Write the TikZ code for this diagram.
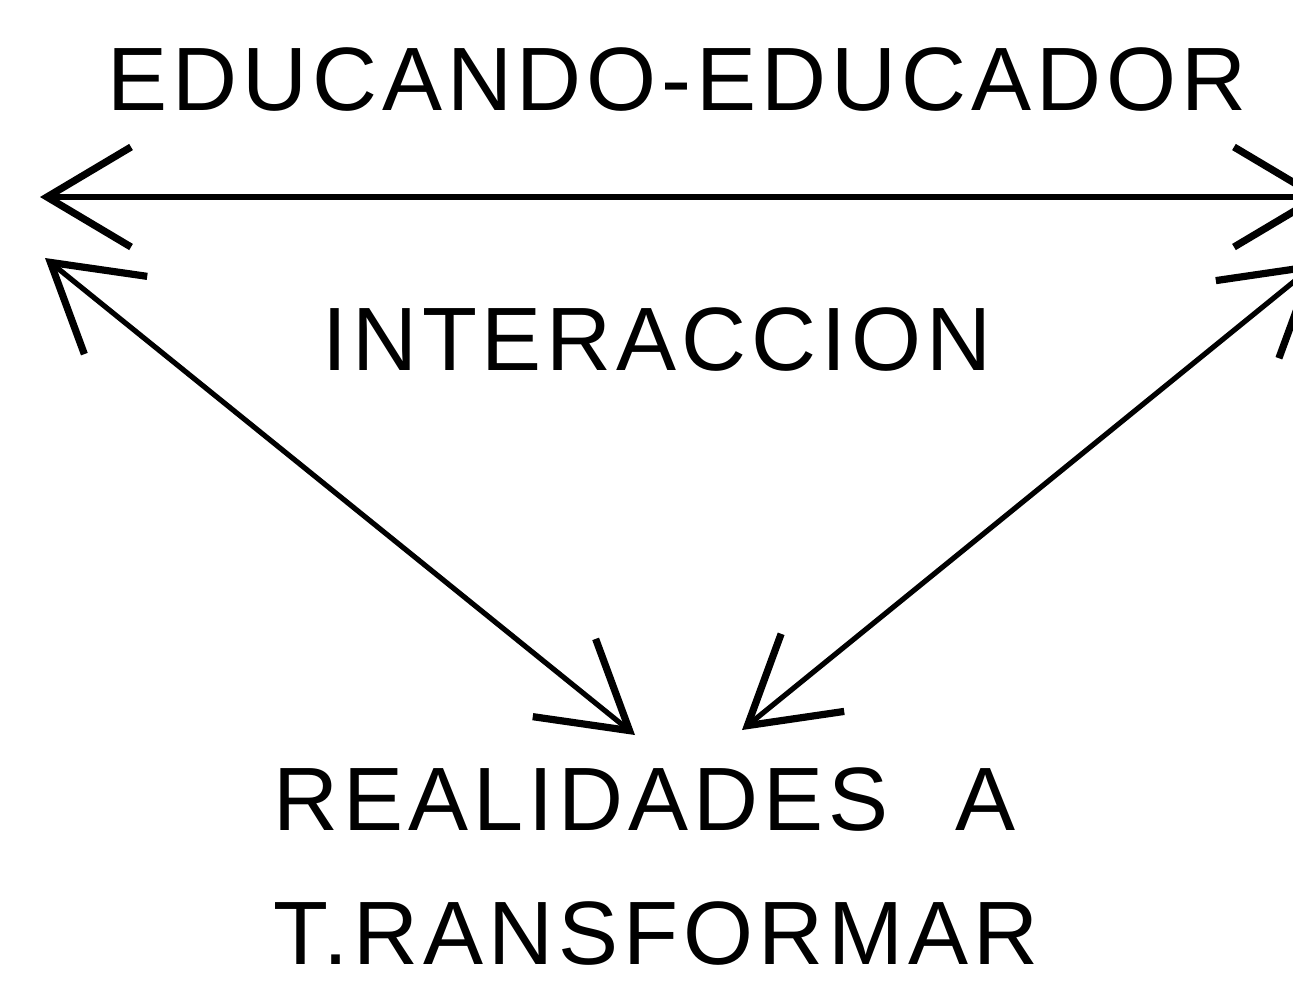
\documentclass[tikz,border=0pt]{standalone}
\usepackage{fontspec}
\setmainfont{Liberation Sans}[LetterSpace=5.5]
\usetikzlibrary{arrows.meta}
\tikzset{
  lbl/.style={inner sep=0pt, anchor=base, font=\fontsize{45pt}{50pt}\selectfont},
  conn/.style={line width=2.6pt, {Straight Barb[length=42pt,width=50pt,line width=3.6pt]}-{Straight Barb[length=42pt,width=50pt,line width=3.6pt]}}
}
\begin{document}
\begin{tikzpicture}[x=0.5pt,y=-0.5pt]
\useasboundingbox (0,0) rectangle (1293,981);
\clip (0,0) rectangle (1293,981);
\node[lbl] (top) at (677,110) {EDUCANDO-EDUCADOR};
\node[lbl] (mid) at (657,370) {INTERACCION};
\node[lbl] (real) at (645,830) {REALIDADES\hspace{0.75em}A};
\node[lbl] (trans) at (656,964) {T.RANSFORMAR};
\coordinate (hl) at (40,197);
\coordinate (hr) at (1325,197);
\coordinate (dl) at (45,258);
\coordinate (bl) at (635,735);
\coordinate (dr) at (1318,262);
\coordinate (br) at (742,730);
\draw[conn] (hl) -- (hr);
\draw[conn] (dl) -- (bl);
\draw[conn] (dr) -- (br);
\end{tikzpicture}
\end{document}
